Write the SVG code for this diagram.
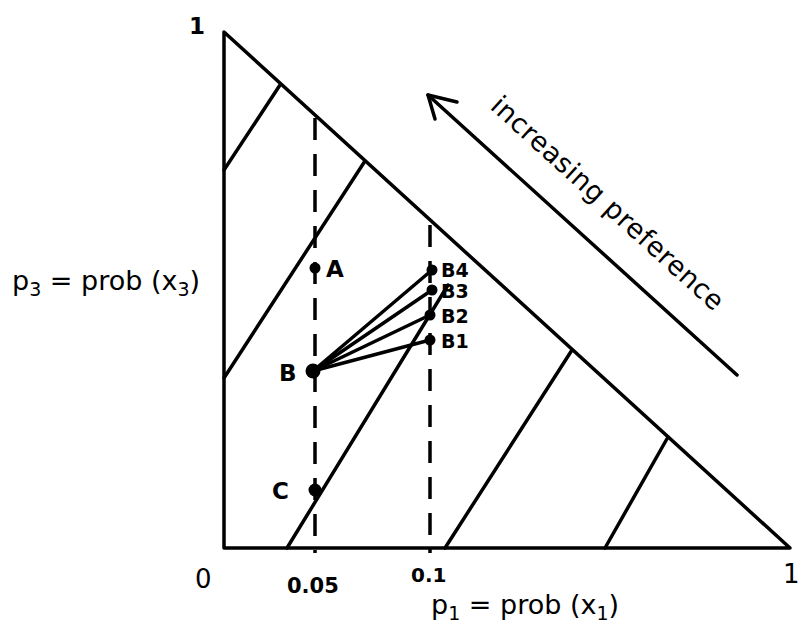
<svg xmlns="http://www.w3.org/2000/svg" width="801" height="632" viewBox="0 0 801 632">
<style>
.ln{stroke:#000;stroke-width:3.5;fill:none;stroke-linecap:round;stroke-linejoin:round}
.ds{stroke:#000;stroke-width:3.5;fill:none;stroke-dasharray:22,14}
.tx{font-family:"DejaVu Sans","Liberation Sans",sans-serif;fill:#000}
.lb{font-family:"DejaVu Sans","Liberation Sans",sans-serif;font-weight:bold;fill:#000;font-size:23px}
.bl{font-family:"DejaVu Sans","Liberation Sans",sans-serif;font-weight:bold;fill:#000;font-size:19px}
</style>
<rect width="801" height="632" fill="#fff"/>
<g id="triangle">
<path class="ln" d="M224,32 L224,548 L790,548 Z"/>
</g>
<g id="indifference">
<line class="ln" x1="224" y1="170" x2="280" y2="85"/>
<line class="ln" x1="224" y1="378" x2="365" y2="161"/>
<line class="ln" x1="287" y1="548" x2="448" y2="285"/>
<line class="ln" x1="445" y1="548" x2="572" y2="350"/>
<line class="ln" x1="605" y1="548" x2="668" y2="437"/>
</g>
<g id="dashed">
<line class="ds" x1="315" y1="118" x2="315" y2="553"/>
<line class="ds" x1="430" y1="225" x2="430" y2="553"/>
</g>
<g id="connectors">
<line class="ln" x1="313" y1="371" x2="430" y2="340"/>
<line class="ln" x1="313" y1="371" x2="430" y2="315"/>
<line class="ln" x1="313" y1="371" x2="432" y2="290"/>
<line class="ln" x1="313" y1="371" x2="432" y2="270"/>
</g>
<g id="points">
<circle cx="315" cy="268" r="5.5"/>
<circle cx="313" cy="371" r="7.5"/>
<circle cx="315" cy="490" r="6.5"/>
<circle cx="430" cy="340" r="5.5"/>
<circle cx="430" cy="315" r="5.5"/>
<circle cx="432" cy="290" r="5.5"/>
<circle cx="432" cy="270" r="5.5"/>
</g>
<g id="labels">
<text class="lb" x="326" y="277">A</text>
<text class="lb" x="279" y="381" font-size="24">B</text>
<text class="lb" x="272" y="499" font-size="24">C</text>
<text class="bl" x="441" y="277">B4</text>
<text class="bl" x="441" y="298">B3</text>
<text class="bl" x="441" y="323">B2</text>
<text class="bl" x="441" y="348">B1</text>
</g>
<g id="arrow">
<line class="ln" x1="737" y1="375" x2="428" y2="95"/>
<polyline class="ln" points="435,119 428,95 457,102"/>
<text class="tx" font-size="27" letter-spacing="0.5" transform="translate(489,108) rotate(42.2)">increasing  preference</text>
</g>
<g id="axes-text">
<text class="tx" x="189" y="34" font-size="23" font-weight="bold">1</text>
<text class="tx" x="12" y="290" font-size="27">p<tspan font-size="19" dy="6">3</tspan><tspan dy="-6"> = prob (x</tspan><tspan font-size="19" dy="6">3</tspan><tspan dy="-6">)</tspan></text>
<text class="tx" x="195" y="588" font-size="26">0</text>
<text class="tx" x="287" y="593" font-size="21" font-weight="bold">0.05</text>
<text class="tx" x="411" y="582" font-size="20" font-weight="bold">0.1</text>
<text class="tx" x="783" y="583" font-size="26">1</text>
<text class="tx" x="431" y="614" font-size="27">p<tspan font-size="19" dy="6">1</tspan><tspan dy="-6"> = prob (x</tspan><tspan font-size="19" dy="6">1</tspan><tspan dy="-6">)</tspan></text>
</g>
</svg>
